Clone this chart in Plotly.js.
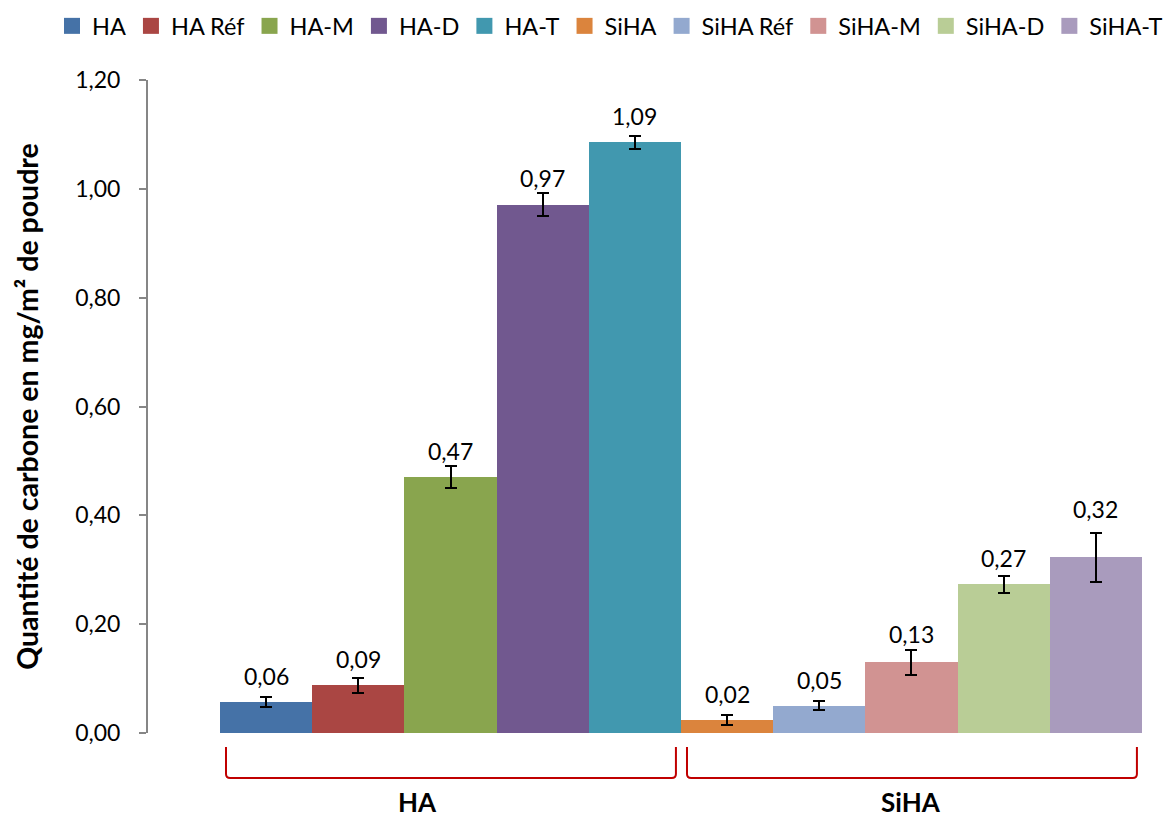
<!DOCTYPE html>
<html>
<head>
<meta charset="utf-8">
<script src="https://cdn.plot.ly/plotly-3.0.1.min.js"></script>
<style>html,body{margin:0;padding:0;background:#fff;}#chart{width:1169px;height:821px;}</style>
</head>
<body>
<div id="chart"></div>
<script>
// ---- data ----
const categories = ['HA', 'HA Réf', 'HA-M', 'HA-D', 'HA-T', 'SiHA', 'SiHA Réf', 'SiHA-M', 'SiHA-D', 'SiHA-T'];
const values = [0.057, 0.088, 0.470, 0.971, 1.086, 0.024, 0.050, 0.130, 0.273, 0.323];
const errors = [0.010, 0.014, 0.020, 0.021, 0.012, 0.010, 0.008, 0.023, 0.016, 0.045];
const groupNames = ['HA', 'SiHA'];
const groupFirst = [0, 5];
const groupLast = [4, 9];
const yTicks = [0, 0.2, 0.4, 0.6, 0.8, 1.0, 1.2];

// ---- style ----
const colors = ['#4572A7', '#AA4643', '#89A54E', '#71588F', '#4198AF',
                '#DB843D', '#93A9CF', '#D19392', '#B9CD96', '#A99BBD'];
const FONT = 'Lato, "Open Sans", sans-serif';

const traces = [];
categories.forEach((c, i) => {
  traces.push({
    type: 'bar', name: c, x: [i], y: [values[i]], width: 1,
    marker: {color: colors[i], line: {width: 0}},
    error_y: {type: 'data', array: [errors[i]], visible: true, color: '#000', thickness: 2, width: 6},
    showlegend: false, legendgroup: c, hoverinfo: 'name+y'
  });
});
categories.forEach((c, i) => {
  traces.push({
    type: 'scatter', mode: 'markers', name: c, x: [null], y: [null],
    marker: {symbol: 'square', size: 16, color: colors[i]},
    legendgroup: c, showlegend: true
  });
});

const fmt = v => v.toFixed(2).replace('.', ',');
const annotations = [];
categories.forEach((c, i) => {
  const off = Math.max(0.033, 1.65 * errors[i]);
  annotations.push({
    x: i, y: values[i] + off, xref: 'x', yref: 'y', text: fmt(values[i]),
    showarrow: false, yanchor: 'bottom', yshift: -8,
    font: {family: FONT, size: 23, color: '#000'}
  });
});

const shapes = [];
const yTop = -14 / 654, yBot = -45 / 654, ry = 4 / 654, rx = 0.045;
groupNames.forEach((g, k) => {
  const x0 = groupFirst[k] - 0.5 + 0.065;
  const x1 = groupLast[k] + 0.5 - 0.055;
  const path = `M ${x0},${yTop} L ${x0},${yBot + ry} Q ${x0},${yBot} ${x0 + rx},${yBot} ` +
               `L ${x1 - rx},${yBot} Q ${x1},${yBot} ${x1},${yBot + ry} L ${x1},${yTop}`;
  shapes.push({type: 'path', xref: 'x', yref: 'paper', path: path,
               line: {color: '#C00000', width: 2}});
  annotations.push({
    x: (groupFirst[k] + groupLast[k]) / 2, y: -87 / 654, xref: 'x', yref: 'paper',
    text: '<b>' + g + '</b>', showarrow: false, yanchor: 'bottom',
    xshift: k === 0 ? -33 : 0,
    font: {family: FONT, size: 26, color: '#000'}
  });
});

const layout = {
  width: 1169, height: 821,
  margin: {l: 148, r: 0, t: 80, b: 88},
  paper_bgcolor: '#fff', plot_bgcolor: '#fff',
  separators: ', ',
  font: {family: FONT, size: 23, color: '#000'},
  barmode: 'overlay', bargap: 0,
  xaxis: {visible: false, range: [-1.281, 9.793], fixedrange: true},
  yaxis: {
    range: [0, 1.2], tickvals: yTicks, tickformat: '.2f',
    showgrid: false, zeroline: false,
    showline: true, linecolor: '#868686', linewidth: 2,
    ticks: 'outside', ticklen: 7, tickwidth: 2, tickcolor: '#868686',
    ticklabelstandoff: 14,
    tickfont: {family: FONT, size: 23, color: '#000'},
    title: {text: 'Quantité de carbone en mg/m² de poudre', standoff: 28,
            font: {family: FONT, size: 28.5, color: '#000', weight: 'bold'}}
  },
  legend: {
    orientation: 'h', xref: 'paper', yref: 'paper',
    x: (52 - 148) / 1021, xanchor: 'left', y: (733 - 25) / 654, yanchor: 'middle',
    font: {family: FONT, size: 23.5, color: '#000'},
    itemclick: false, itemdoubleclick: false
  },
  annotations: annotations,
  shapes: shapes,
  showlegend: true
};

Plotly.newPlot('chart', traces, layout, {displayModeBar: false, staticPlot: true});
</script>
</body>
</html>
